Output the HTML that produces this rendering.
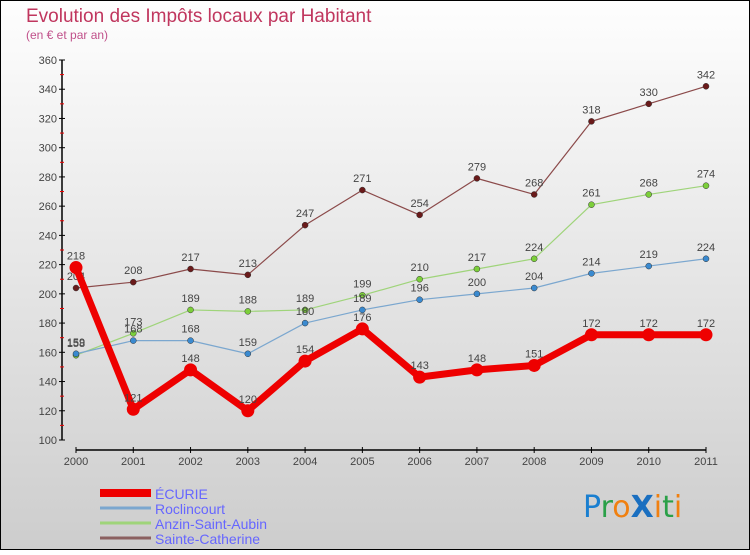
<!DOCTYPE html>
<html><head><meta charset="utf-8"><style>
body{margin:0}
#c{width:750px;height:550px;position:relative;font-family:"Liberation Sans",sans-serif}
</style></head><body>
<div id="c">
<svg id="s" width="750" height="550" xmlns="http://www.w3.org/2000/svg">
<defs><linearGradient id="bg" x1="0" y1="0" x2="0" y2="1"><stop offset="0" stop-color="#fefefe"/><stop offset="1" stop-color="#cdcdcd"/></linearGradient></defs>
<rect x="0.5" y="0.5" width="749" height="549" fill="url(#bg)" stroke="#000"/>
<text x="26" y="22" font-size="19" fill="#c0365e">Evolution des Impôts locaux par Habitant</text>
<text x="26" y="39" font-size="12" fill="#c0508a">(en € et par an)</text>
<g id="axes"></g><g id="series"></g>
<g>
<rect x="100" y="489" width="51" height="8" fill="#e00"/>
<text x="155" y="499" font-size="14" fill="#6666ff">ÉCURIE</text>
<line x1="100" y1="508" x2="151" y2="508" stroke="#7ba7cf" stroke-width="3"/>
<text x="155" y="514" font-size="14" fill="#6666ff">Roclincourt</text>
<line x1="100" y1="523" x2="151" y2="523" stroke="#9fd47a" stroke-width="3"/>
<text x="155" y="529" font-size="14" fill="#6666ff">Anzin-Saint-Aubin</text>
<line x1="100" y1="538" x2="151" y2="538" stroke="#8b6060" stroke-width="3"/>
<text x="155" y="544" font-size="14" fill="#6666ff">Sainte-Catherine</text>
</g>
<g font-size="30" font-family="'DejaVu Sans',sans-serif">
<text x="583" y="517"><tspan fill="#1a7fd0">P</tspan><tspan fill="#2aa048">r</tspan><tspan fill="#f08010">o</tspan><tspan fill="#1a6fc0" font-weight="bold">X</tspan><tspan fill="#f08010">i</tspan><tspan fill="#2aa048">t</tspan><tspan fill="#f08010">i</tspan></text>
</g>
</svg></div>
<script>
const years=[2000,2001,2002,2003,2004,2005,2006,2007,2008,2009,2010,2011];
const ecurie=[218,121,148,120,154,176,143,148,151,172,172,172];
const roclincourt=[159,168,168,159,180,189,196,200,204,214,219,224];
const anzin=[158,173,189,188,189,199,210,217,224,261,268,274];
const sainteCatherine=[204,208,217,213,247,271,254,279,268,318,330,342];
const yTicks=[100,120,140,160,180,200,220,240,260,280,300,320,340,360];
const NS="http://www.w3.org/2000/svg";
const X=i=>76+i*(630/11);
const Y=v=>440-(v-100)*(380/260);
function mk(t,a,p){const e=document.createElementNS(NS,t);for(const k in a)e.setAttribute(k,a[k]);p.appendChild(e);return e;}
const ax=document.getElementById('axes');
const yl=mk('line',{x1:62,y1:Y(360),x2:62,y2:Y(100),stroke:'#000','stroke-width':1.5},ax);


yTicks.forEach(v=>{
 mk('line',{x1:59,x2:65,y1:Y(v),y2:Y(v),stroke:'#000'},ax);
 if(v<360)mk('line',{x1:60,x2:64,y1:Y(v+10),y2:Y(v+10),stroke:'#e00'},ax);
 const t=mk('text',{x:57,y:Y(v)+4,'font-size':11,fill:'#444','text-anchor':'end'},ax);t.textContent=v;
 
 
});
const xl=mk('line',{x1:X(0),y1:450,x2:X(11),y2:450,stroke:'#000','stroke-width':1.5},ax);


years.forEach((y,i)=>{
 mk('line',{x1:X(i),x2:X(i),y1:447,y2:453,stroke:'#000'},ax);
 const t=mk('text',{x:X(i),y:465,'font-size':11,fill:'#444','text-anchor':'middle'},ax);t.textContent=y;
 
 
});
const sg=document.getElementById('series');
function draw(vals,col,dot,w,r,name){
 const g=mk('g',{},sg);
 
 
 mk('polyline',{points:vals.map((v,i)=>X(i)+','+Y(v)).join(' '),fill:'none',stroke:col,'stroke-width':w,'stroke-linejoin':'round'},g);
 vals.forEach((v,i)=>{
  const c=mk('circle',{cx:X(i),cy:Y(v),r:r,fill:dot,stroke:w>3?'none':'#333','stroke-width':0.5},g);
  
  
  const t=mk('text',{x:X(i),y:Y(v)-8,'font-size':11,fill:'#444','text-anchor':'middle'},g);t.textContent=v;
 });
}
draw(sainteCatherine,'#8b4a4a','#6a1a1a',1.2,3,'sainte-catherine');
draw(anzin,'#9fd47a','#7ccf3a',1.2,3,'anzin');
draw(roclincourt,'#7ba7cf','#3a8ad0',1.2,3,'roclincourt');
draw(ecurie,'#ee0000','#ee0000',7,6.5,'ecurie');
</script>
</body></html>
